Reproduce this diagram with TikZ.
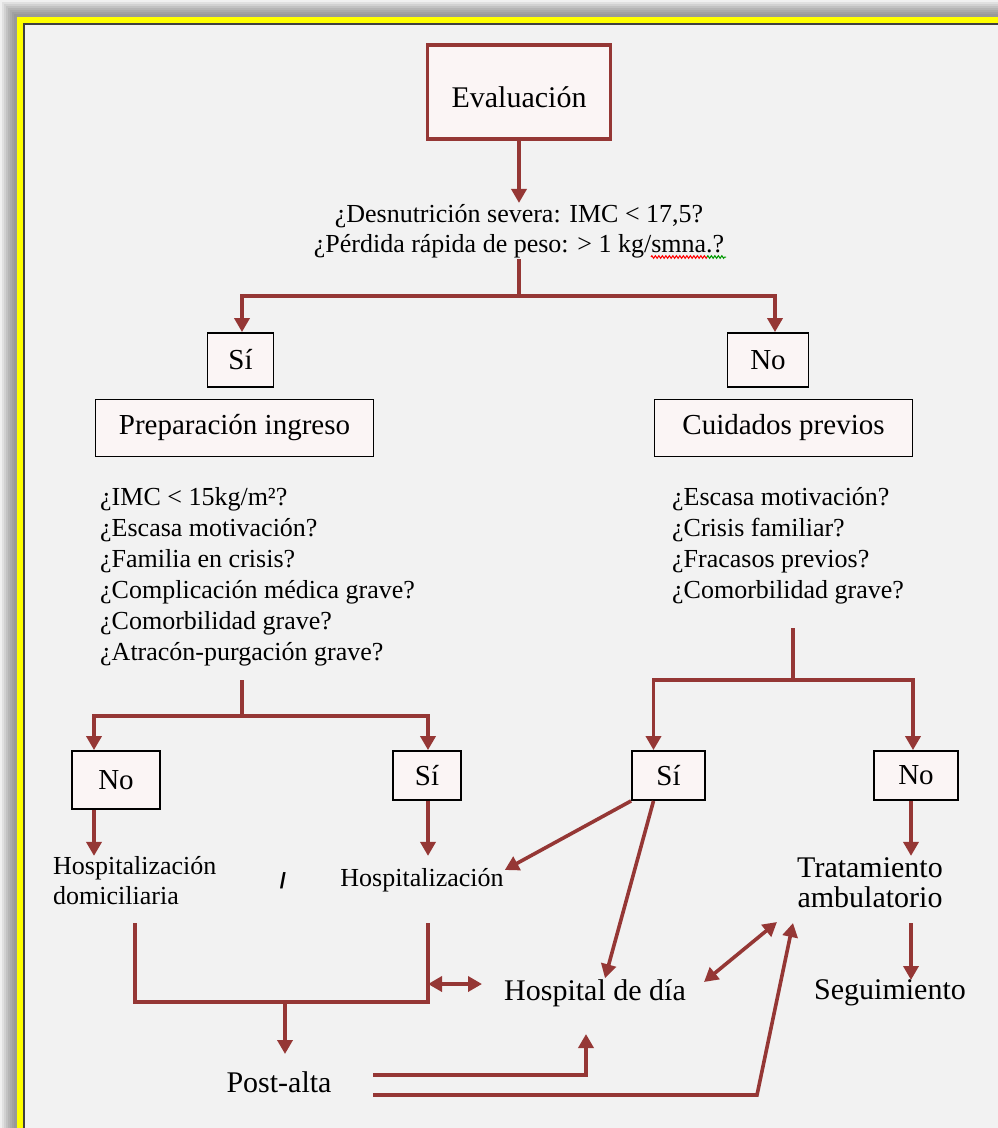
\documentclass[tikz,border=0pt]{standalone}
\usepackage{fontspec}
\setmainfont{Liberation Serif}
\setsansfont{Liberation Sans}
\usetikzlibrary{arrows.meta,positioning,decorations.pathmorphing}
\definecolor{ggred}{HTML}{953735}
\definecolor{ggpaper}{HTML}{F2F2F2}
\definecolor{ggfill}{HTML}{FBF5F5}
\definecolor{ggframe}{HTML}{FFFF00}

\begin{document}
\begin{tikzpicture}[x=1pt,y=-1pt,
  bx/.style={draw=black,line width=1.8pt,fill=ggfill,inner sep=0pt,font=\fontsize{29}{30}\selectfont},
  ev/.style={draw=ggred,line width=3.8pt,fill=ggfill,inner sep=0pt,font=\fontsize{30}{30}\selectfont},
  big/.style={inner sep=1pt,font=\fontsize{30}{30}\selectfont},
  lbl/.style={inner sep=1pt,font=\fontsize{26}{30}\selectfont},
  qs/.style={inner sep=0pt,align=left,font=\fontsize{26}{31}\selectfont},
  ln/.style={draw=ggred,line width=3.6pt},
  arr/.style={ln,-{Triangle[length=14pt,width=15pt]}},
  dbl/.style={ln,{Triangle[length=14pt,width=15pt]}-{Triangle[length=14pt,width=15pt]}},
  squig/.style={line width=1pt,decorate,decoration={zigzag,amplitude=1.3pt,segment length=3.5pt}}]
  \useasboundingbox (0,0) rectangle (998,1128);
  % page, shadow and yellow frame
  \fill[white] (0,0) rectangle (998,1128);
  \foreach \i/\g in {0/6,2/12,4/18,6/24,8/29,10/33,12/37,14/40}
    \fill[black!\g] (\i,\i) rectangle (998,1128);
  \fill[ggframe] (17,17) rectangle (998,1128);
  \fill[black!75] (23,23) rectangle (998,1128);
  \fill[ggpaper] (25,25) rectangle (998,1128);
  % top: evaluation and first question
  \node[ev,minimum width=183,minimum height=94,text height=31pt] (eval) at (519,92) {Evaluación};
  \node[lbl,align=center] (q1) at (519,231)
    {¿Desnutrición severa: IMC < 17,5?\\¿Pérdida rápida de peso: > 1 kg/smna.?};
  \coordinate (s1) at (651,257);
  \coordinate (s2) at (707,257);
  \coordinate (s3) at (726,257);
  \draw[squig,red] (s1) -- (s2);
  \draw[squig,green!60!black] (s2) -- (s3);
  \draw[arr] (eval.south) -- (eval.south |- q1.north);
  \coordinate (j1) at (519,296);
  \draw[ln] (q1.south) -- (j1);
  \node[bx,minimum width=66,minimum height=54] (si1) at (240.5,360) {Sí};
  \node[bx,minimum width=81,minimum height=54] (no1) at (768,360) {No};
  \draw[arr] (j1) -| ([xshift=1.5pt]si1.north);
  \draw[arr] (j1) -| ([xshift=7pt]no1.north);
  \node[bx,minimum width=278,minimum height=57] (prep) at (234.5,428) {Preparación ingreso};
  \node[bx,minimum width=258,minimum height=57] (cuid) at (783.5,428) {Cuidados previos};
  % second level questions
  \node[qs,anchor=north west] (qprep) at (100,487)
    {¿IMC < 15kg/m²?\\¿Escasa motivación?\\¿Familia en crisis?\\¿Complicación médica grave?\\¿Comorbilidad grave?\\¿Atracón-purgación grave?};
  \node[qs,anchor=north west] (qcuid) at (672,487)
    {¿Escasa motivación?\\¿Crisis familiar?\\¿Fracasos previos?\\¿Comorbilidad grave?};
  % left branch
  \coordinate (t2) at (242,680);
  \coordinate (j2) at (242,716);
  \draw[ln] (t2) -- (j2);
  \node[bx,minimum width=88,minimum height=58] (no2) at (116,780) {No};
  \node[bx,minimum width=68,minimum height=49] (si2) at (427,775.5) {Sí};
  \draw[arr] (j2) -| ([xshift=-22pt]no2.north);
  \draw[arr] (j2) -| ([xshift=1pt]si2.north);
  % right branch
  \coordinate (t3) at (793,628);
  \coordinate (j3) at (793,680);
  \draw[ln] (t3) -- (j3);
  \node[bx,minimum width=73,minimum height=49] (si3) at (668.5,775.5) {Sí};
  \node[bx,minimum width=84,minimum height=49] (no3) at (916,775.5) {No};
  \draw[arr] (j3) -| ([xshift=-15pt]si3.north);
  \draw[arr] (j3) -| ([xshift=-3pt]no3.north);
  % outcomes
  \node[lbl,align=left,anchor=west] (hdom) at (52,881) {Hospitalización\\domiciliaria};
  \node[inner sep=0pt,font=\sffamily\bfseries\fontsize{22}{22}\selectfont] (slash) at (283,881) {/};
  \node[lbl] (hosp) at (422,880) {Hospitalización};
  \node[big,align=center] (trat) at (870,883) {Tratamiento\\ambulatorio};
  \node[big] (hdia) at (595,993) {Hospital de día};
  \node[big] (seg) at (890,993) {Seguimiento};
  \node[big] (post) at (279,1082) {Post-alta};
  \draw[arr] ([xshift=-22pt]no2.south) -- ++(0,46);
  \draw[arr] ([xshift=1pt]si2.south) -- ++(0,55);
  \draw[arr] (si3.south west) -- ([yshift=10pt]hosp.east);
  \draw[arr] ([xshift=-15pt]si3.south) -- ([xshift=10pt]hdia.north);
  \draw[arr] ([xshift=-5pt]no3.south) -- ++(0,55);
  \coordinate (t4) at (911,923);
  \draw[arr] (t4) -- ++(0,57);
  \coordinate (d1) at (704,982);
  \coordinate (d2) at (777,922);
  \draw[dbl] (d1) -- (d2);
  % back from hospital to post-alta
  \coordinate (b1) at (135,923);
  \coordinate (b2) at (428,923);
  \coordinate (j4) at (285,1002);
  \draw[ln] (b1) |- (b2 |- j4) -- (b2);
  \draw[arr] (j4) -- ++(0,52);
  \coordinate (b3) at (428,984);
  \draw[dbl] (b3) -- ++(54,0);
  \coordinate (p1) at (373,1075);
  \coordinate (p2) at (373,1095);
  \draw[arr] (p1) -| ++(213,-41);
  \draw[arr] (p2) -- ++(384,0) -- ++(36,-172);
\end{tikzpicture}
\end{document}
